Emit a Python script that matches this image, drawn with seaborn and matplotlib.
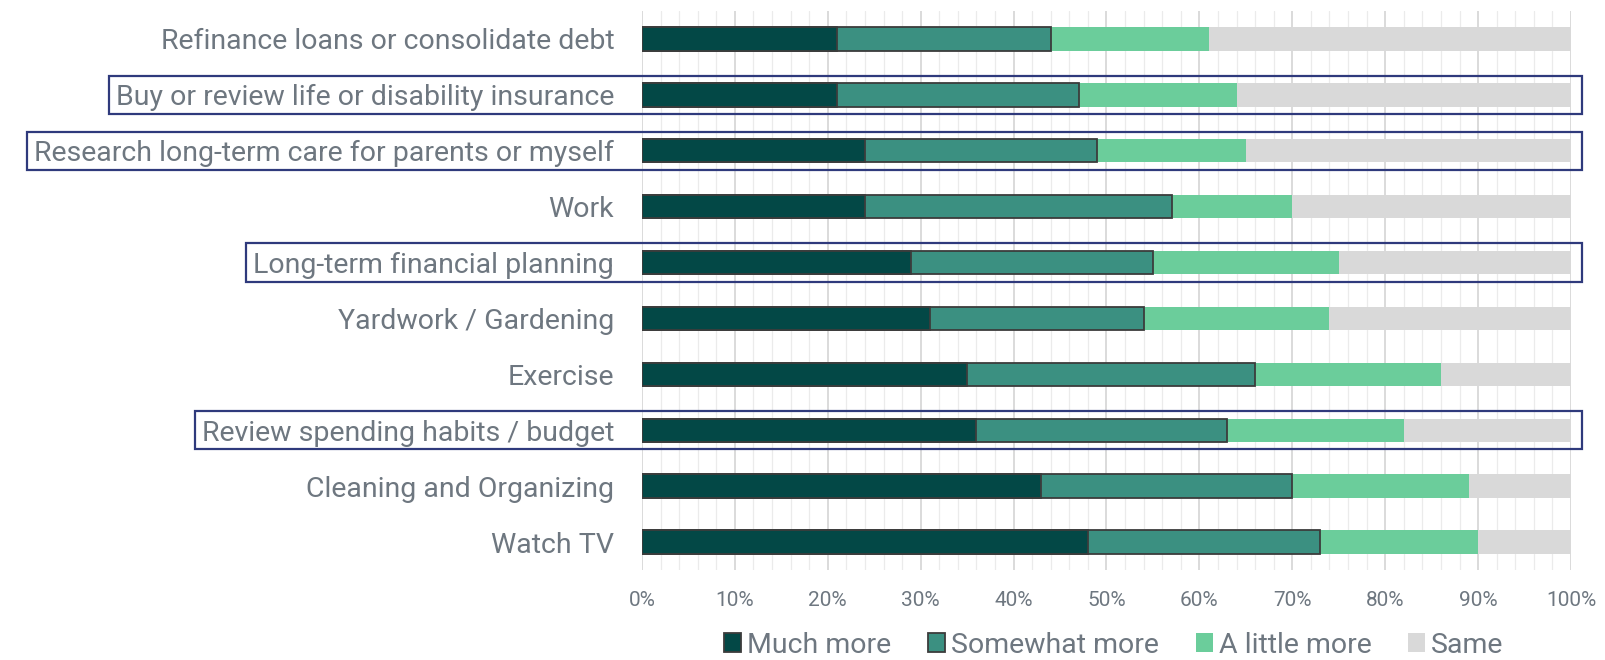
import matplotlib
matplotlib.use("Agg")
import matplotlib.pyplot as plt
import seaborn as sns
import numpy as np
import pandas as pd
from matplotlib.patches import Rectangle, Patch
from matplotlib.ticker import MultipleLocator, FuncFormatter

categories = [
    "Refinance loans or consolidate debt",
    "Buy or review life or disability insurance",
    "Research long-term care for parents or myself",
    "Work",
    "Long-term financial planning",
    "Yardwork / Gardening",
    "Exercise",
    "Review spending habits / budget",
    "Cleaning and Organizing",
    "Watch TV",
]
much_more = [21, 21, 24, 24, 29, 31, 35, 36, 43, 48]
somewhat_more = [23, 26, 25, 33, 26, 23, 31, 27, 27, 25]
a_little_more = [17, 17, 16, 13, 20, 20, 20, 19, 19, 17]
same = [39, 36, 35, 30, 25, 26, 14, 18, 11, 10]
highlighted = [
    "Buy or review life or disability insurance",
    "Research long-term care for parents or myself",
    "Long-term financial planning",
    "Review spending habits / budget",
]
series_names = ["Much more", "Somewhat more", "A little more", "Same"]
colors = ["#034846", "#3b9081", "#6bcd9b", "#d9d9d9"]

sns.set_theme(style="white")
plt.rcParams["font.family"] = ["Roboto", "DejaVu Sans"]
text_gray = "#6e7780"

df = pd.DataFrame({
    "category": categories,
    "Much more": much_more,
    "Somewhat more": somewhat_more,
    "A little more": a_little_more,
    "Same": same,
})
cum = df[series_names].cumsum(axis=1)

fig = plt.figure(figsize=(16.06, 6.6), dpi=100)
ax = fig.add_axes([642 / 1606, 1 - 570 / 660, (1571 - 642) / 1606, (570 - 11) / 660])

edge = "#3c3c3c"
for i in range(3, -1, -1):
    name = series_names[i]
    has_edge = i < 2
    sns.barplot(
        x=cum[name], y=df["category"], orient="h", color=colors[i],
        saturation=1, width=0.42, ax=ax,
        edgecolor=edge if has_edge else "none",
        linewidth=1.3 if has_edge else 0,
    )

ax.set_xlim(0, 100)
ax.set_ylim(9.5, -0.5)
ax.xaxis.set_major_locator(MultipleLocator(10))
ax.xaxis.set_minor_locator(MultipleLocator(2))
ax.xaxis.set_major_formatter(FuncFormatter(lambda v, p: f"{int(v)}%"))
ax.grid(axis="x", which="major", color="#d4d4d4", linewidth=1.2, zorder=0)
ax.grid(axis="x", which="minor", color="#ebebeb", linewidth=0.9, zorder=0)
ax.set_axisbelow(True)
for s in ax.spines.values():
    s.set_visible(False)
ax.set_xlabel("")
ax.set_ylabel("")
ax.tick_params(axis="x", which="both", length=0, pad=15, labelsize=15, labelcolor=text_gray)
ax.tick_params(axis="y", length=0, pad=20, labelsize=20.5, labelcolor=text_gray)

handles = []
for i, name in enumerate(series_names):
    handles.append(Patch(facecolor=colors[i], edgecolor=edge if i < 2 else colors[i],
                         linewidth=1.3 if i < 2 else 0, label=name))
fig.legend(handles=handles, loc="center", bbox_to_anchor=(0.6936, 0.0227), ncol=4,
           frameon=False, fontsize=20.5, labelcolor=text_gray, handlelength=0.6,
           handleheight=0.6, handletextpad=0.2, columnspacing=1.3, borderaxespad=0,
           borderpad=0)

fig.canvas.draw()
renderer = fig.canvas.get_renderer()
W, H = fig.bbox.width, fig.bbox.height
row_px = ax.bbox.height / 10.0
right_px = 1582
for lab in ax.get_yticklabels():
    if lab.get_text() in highlighted:
        bb = lab.get_window_extent(renderer)
        idx = categories.index(lab.get_text())
        yc = ax.transData.transform((0, idx))[1]
        h = row_px * 0.685
        x0 = bb.x0 - 7
        rect = Rectangle((x0 / W, (yc - h / 2) / H), (right_px - x0) / W, h / H,
                         transform=fig.transFigure, fill=False,
                         edgecolor="#2f3a7c", linewidth=1.6, clip_on=False)
        fig.patches.append(rect)

fig.savefig("out.png", dpi=100)
